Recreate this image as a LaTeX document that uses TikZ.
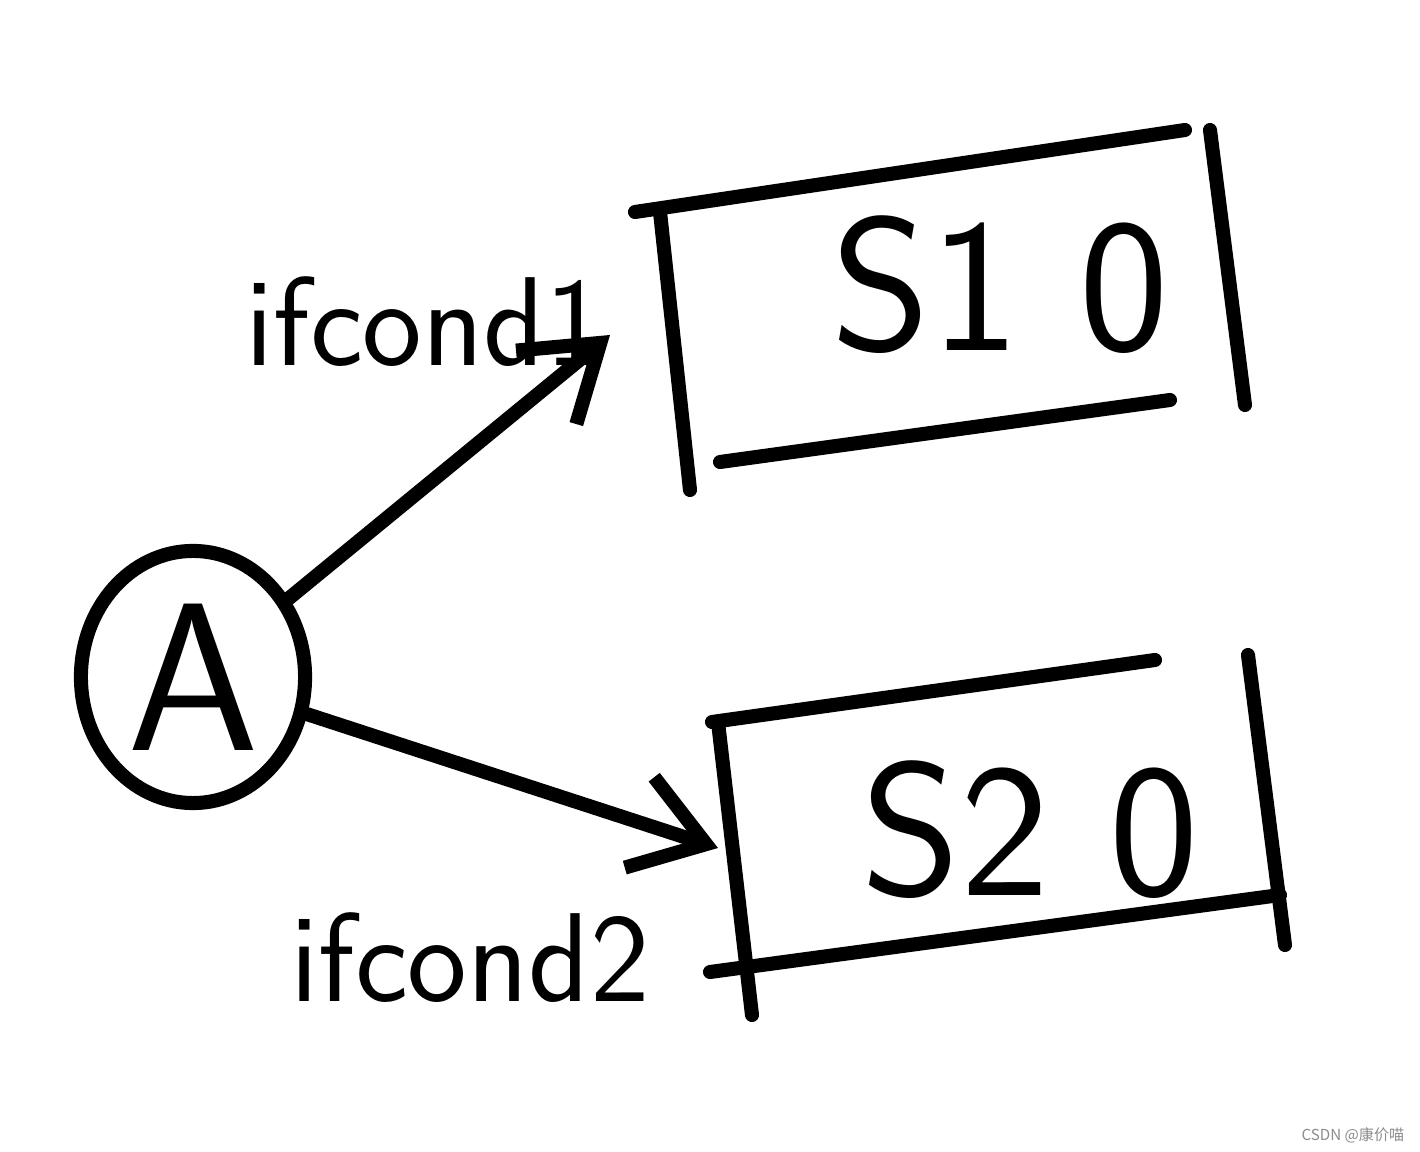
\documentclass[tikz,border=0pt]{standalone}
\usepackage{fontspec}
\newfontfamily\cjk{Noto Sans CJK SC}
\usetikzlibrary{arrows.meta,shapes.geometric}
\tikzset{
  stroke/.style={line width=4pt, line cap=round, line join=round},
  conn/.style={stroke, -{Straight Barb[length=0.7cm, width=0.95cm, line width=4pt]}},
  boxshape/.style={rectangle, inner sep=0pt},
  hand/.style={font=\sffamily\fontsize{36}{40}\selectfont},
  big/.style={font=\sffamily\fontsize{54}{60}\selectfont},
}
\begin{document}
\begin{tikzpicture}[x=0.01cm,y=-0.01cm]
\useasboundingbox (0,0) rectangle (1420,1152);
\fill[white] (0,0) rectangle (1420,1152);

% state A
\node[ellipse, draw, stroke, minimum width=2.24cm, minimum height=2.52cm,
      font=\sffamily\fontsize{60}{64}\selectfont] (A) at (193,677) {A};

% box 1 (outline strokes drawn by hand)
\node[boxshape, rotate=7, minimum width=5.6cm, minimum height=2.65cm] (box1) at (950,297) {};
\draw[stroke] (635,212) -- (1185,130);
\draw[stroke] (660,212) -- (690,490);
\draw[stroke] (1210,130) -- (1245,405);
\draw[stroke] (720,462) -- (1170,400);
\node[big] (s1) at (1000,285) {S1 0};

% box 2
\node[boxshape, rotate=8, minimum width=5.4cm, minimum height=2.5cm] (box2) at (997,808) {};
\draw[stroke] (712,722) -- (1155,660);
\draw[stroke] (718,722) -- (752,1015);
\draw[stroke] (1248,655) -- (1285,945);
\draw[stroke] (710,972) -- (1280,895);
\node[big] (s2) at (1030,830) {S2 0};

% connectors
\coordinate (t1) at (610,335);
\coordinate (t2) at (718,848);
\draw[conn] (A) -- (t1);
\draw[conn] (A) -- (t2);

% labels
\node[hand] (c1) at (425,322) {ifcond1};
\node[hand] (c2) at (470,958) {ifcond2};

% watermark
\node[text=black!45, font=\cjk\fontsize{4.3}{5}\selectfont, anchor=east, inner sep=0pt] (wm) at (1405,1135) {CSDN @康价喵};
\end{tikzpicture}
\end{document}
